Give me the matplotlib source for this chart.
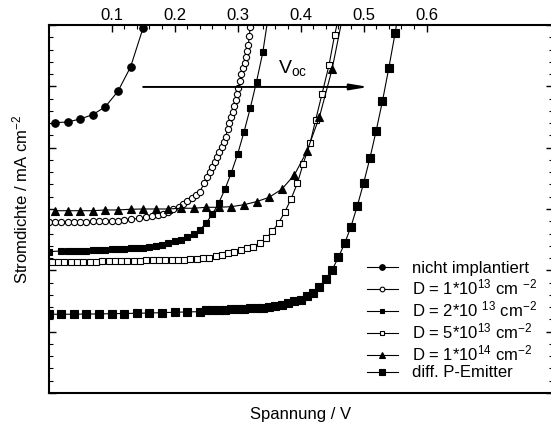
import matplotlib
matplotlib.use("Agg")
import matplotlib.pyplot as plt
from matplotlib.ticker import FixedLocator, NullFormatter

plt.rcParams['font.family'] = ['Liberation Sans', 'DejaVu Sans']
plt.rcParams['mathtext.fontset'] = 'custom'
plt.rcParams['mathtext.rm'] = 'Liberation Sans'
plt.rcParams['mathtext.it'] = 'Liberation Sans:italic'
plt.rcParams['mathtext.bf'] = 'Liberation Sans:bold'

# --- I-V data (voltage in V, current density in mA/cm^2) ---
v_nicht = [0.01, 0.03, 0.05, 0.07, 0.09, 0.11, 0.13, 0.15]
j_nicht = [-7.96, -7.91, -7.66, -7.31, -6.66, -5.40, -3.42, -0.22]

v_1e13 = [0.000, 0.010, 0.020, 0.030, 0.040, 0.050, 0.060, 0.070, 0.080, 0.090,
          0.100, 0.110, 0.120, 0.131, 0.143, 0.154, 0.164, 0.173, 0.182, 0.190,
          0.198, 0.207, 0.214, 0.220, 0.227, 0.234, 0.240, 0.247, 0.252, 0.256,
          0.260, 0.264, 0.268, 0.271, 0.275, 0.278, 0.281, 0.284, 0.287, 0.289,
          0.292, 0.295, 0.297, 0.299, 0.301, 0.304, 0.306, 0.309, 0.311, 0.313,
          0.315, 0.317, 0.3185, 0.320]
j_1e13 = [-16.03, -16.03, -16.03, -16.03, -16.03, -16.03, -16.02, -16.01, -16.00, -15.99,
          -15.98, -15.96, -15.93, -15.85, -15.76, -15.68, -15.60, -15.51, -15.41, -15.24,
          -15.02, -14.81, -14.59, -14.35, -14.13, -13.86, -13.59, -12.90, -12.42, -11.96,
          -11.55, -11.14, -10.74, -10.33, -9.92, -9.51, -9.11, -8.50, -8.01, -7.52,
          -7.07, -6.60, -6.11, -5.62, -5.16, -4.56, -3.99, -3.53, -3.07, -2.58,
          -2.10, -1.63, -0.88, -0.14]

v_2e13 = [0.00, 0.02, 0.03, 0.04, 0.05, 0.06, 0.07, 0.08, 0.09, 0.10,
          0.11, 0.12, 0.13, 0.14, 0.15, 0.16, 0.17, 0.18, 0.19, 0.20,
          0.21, 0.22, 0.23, 0.24, 0.25, 0.26, 0.27, 0.28, 0.29, 0.30,
          0.31, 0.32, 0.33, 0.34, 0.35]
j_2e13 = [-18.48, -18.42, -18.42, -18.41, -18.40, -18.39, -18.37, -18.35, -18.33, -18.30,
          -18.27, -18.24, -18.20, -18.17, -18.14, -18.07, -17.99, -17.91, -17.77, -17.61,
          -17.49, -17.28, -17.04, -16.71, -16.14, -15.41, -14.51, -13.37, -12.04, -10.53,
          -8.74, -6.79, -4.62, -2.23, 1.20]

v_5e13 = [0.005, 0.015, 0.025, 0.035, 0.045, 0.055, 0.065, 0.075, 0.085, 0.095,
          0.105, 0.115, 0.125, 0.135, 0.145, 0.155, 0.165, 0.175, 0.185, 0.195,
          0.205, 0.215, 0.225, 0.235, 0.245, 0.255, 0.265, 0.275, 0.285, 0.295,
          0.305, 0.315, 0.325, 0.335, 0.345, 0.355, 0.365, 0.375, 0.385, 0.395,
          0.404, 0.415, 0.424, 0.434, 0.445, 0.454, 0.463]
j_5e13 = [-19.32, -19.31, -19.31, -19.30, -19.30, -19.29, -19.29, -19.28, -19.27, -19.26,
          -19.25, -19.24, -19.23, -19.22, -19.20, -19.19, -19.18, -19.17, -19.16, -19.15,
          -19.14, -19.13, -19.11, -19.08, -19.03, -18.96, -18.87, -18.75, -18.61, -18.50,
          -18.37, -18.22, -18.06, -17.81, -17.40, -16.83, -16.14, -15.24, -14.16, -12.88,
          -11.33, -9.64, -7.72, -5.62, -3.30, -0.82, 1.20]

v_1e14 = [0.01, 0.03, 0.05, 0.07, 0.09, 0.11, 0.13, 0.15, 0.17, 0.19,
          0.21, 0.23, 0.25, 0.27, 0.29, 0.31, 0.33, 0.35, 0.37, 0.39,
          0.41, 0.43, 0.45, 0.47]
j_1e14 = [-15.14, -15.14, -15.14, -15.14, -15.08, -15.08, -15.02, -15.00, -15.00, -15.00,
          -14.94, -14.94, -14.86, -14.86, -14.81, -14.65, -14.40, -14.05, -13.39, -12.23,
          -10.30, -7.48, -3.60, 1.50]

v_diff = [0.00, 0.02, 0.04, 0.06, 0.08, 0.10, 0.12, 0.14, 0.16, 0.18,
          0.20, 0.22, 0.24, 0.25, 0.26, 0.27, 0.28, 0.29, 0.30, 0.31,
          0.32, 0.33, 0.34, 0.35, 0.36, 0.37, 0.38, 0.39, 0.40, 0.41,
          0.42, 0.43, 0.44, 0.45, 0.46, 0.47, 0.48, 0.49, 0.50, 0.51,
          0.52, 0.53, 0.54, 0.55, 0.56]
j_diff = [-23.58, -23.58, -23.58, -23.56, -23.56, -23.53, -23.52, -23.50, -23.48, -23.45,
          -23.42, -23.39, -23.37, -23.27, -23.26, -23.23, -23.21, -23.18, -23.15, -23.13,
          -23.09, -23.07, -23.05, -23.01, -22.93, -22.85, -22.70, -22.54, -22.38, -22.13,
          -21.81, -21.33, -20.73, -19.97, -18.94, -17.80, -16.43, -14.76, -12.90, -10.87,
          -8.62, -6.20, -3.53, -0.68, 2.50]

labels = ["nicht implantiert",
          "D = 1*10$^{13}$ cm $^{-2}$",
          "D = 2*10 $^{13}$ cm$^{-2}$",
          "D = 5*10$^{13}$ cm$^{-2}$",
          "D = 1*10$^{14}$ cm$^{-2}$",
          "diff. P-Emitter"]

x_major = [0.1, 0.2, 0.3, 0.4, 0.5, 0.6]
x_tick_labels = ["0.1", "0.2", "0.3", "0.4", "0.5", "0.6"]

voc_start, voc_end, voc_level = 0.150, 0.508, -5.05

fig = plt.figure(figsize=(5.51, 4.26), dpi=100)
ax = fig.add_axes([48.7 / 551, 33 / 426, (552.5 - 48.7) / 551, 368 / 426])

line_kw = dict(color='black', lw=0.8, mec='black', mew=0.8)
ax.plot(v_nicht, j_nicht, marker='o', ms=5.4, mfc='black', label=labels[0], **line_kw)
ax.plot(v_1e13, j_1e13, marker='o', ms=4.5, mfc='white', label=labels[1], **line_kw)
ax.plot(v_2e13, j_2e13, marker='s', ms=4.8, mfc='black', label=labels[2], **line_kw)
ax.plot(v_5e13, j_5e13, marker='s', ms=4.5, mfc='white', label=labels[3], **line_kw)
ax.plot(v_1e14, j_1e14, marker='^', ms=5.6, mfc='black', label=labels[4], **line_kw)
ax.plot(v_diff, j_diff, marker='s', ms=5.2, mfc='black', label=labels[5], **line_kw)

ax.set_xlim(0, 0.8)
ax.set_ylim(-30, 0)

# Voc arrow
ax.annotate("", xy=(voc_end, voc_level), xytext=(voc_start, voc_level),
            arrowprops=dict(arrowstyle='-|>,head_length=0.9,head_width=0.15',
                            mutation_scale=12, lw=1.4, color='black',
                            shrinkA=0, shrinkB=0))
ax.text(0.364, -3.9, r"V$_{\mathrm{oc}}$", fontsize=14, ha='left', va='baseline')

# axes styling
for sp in ax.spines.values():
    sp.set_linewidth(1.5)

ax.xaxis.tick_top()
ax.xaxis.set_major_locator(FixedLocator(x_major))
ax.set_xticklabels(x_tick_labels, fontsize=12)
minor_x = [round(0.1 + 0.02 * k, 2) for k in range(26) if k % 5 != 0]
ax.xaxis.set_minor_locator(FixedLocator(minor_x))
ax.tick_params(axis='x', which='major', direction='in', length=5, width=1.0,
               top=True, bottom=False, pad=1.5)
ax.tick_params(axis='x', which='minor', direction='in', length=3, width=0.8,
               top=True, bottom=False)

ax.yaxis.set_major_locator(FixedLocator([-30, -25, -20, -15, -10, -5, 0]))
ax.yaxis.set_minor_locator(FixedLocator([v for v in range(-30, 1) if v % 5 != 0]))
ax.yaxis.set_major_formatter(NullFormatter())
ax.tick_params(axis='y', which='major', direction='in', length=5, width=1.0,
               left=True, right=True)
ax.tick_params(axis='y', which='minor', direction='in', length=3, width=0.8,
               left=True, right=True)

ax.set_xlabel("Spannung / V", fontsize=12)
ax.xaxis.set_label_position('bottom')
ax.xaxis.labelpad = 10
ax.set_ylabel("Stromdichte / mA cm$^{-2}$", fontsize=12)
ax.yaxis.set_label_coords(-0.036, 0.527)

leg = ax.legend(loc='upper left', bbox_to_anchor=(0.631, 0.359), frameon=False,
                fontsize=12, borderpad=0, borderaxespad=0, handlelength=1.9,
                handletextpad=0.8, labelspacing=0.12, markerscale=0.75)

fig.savefig("out.png", dpi=100)
